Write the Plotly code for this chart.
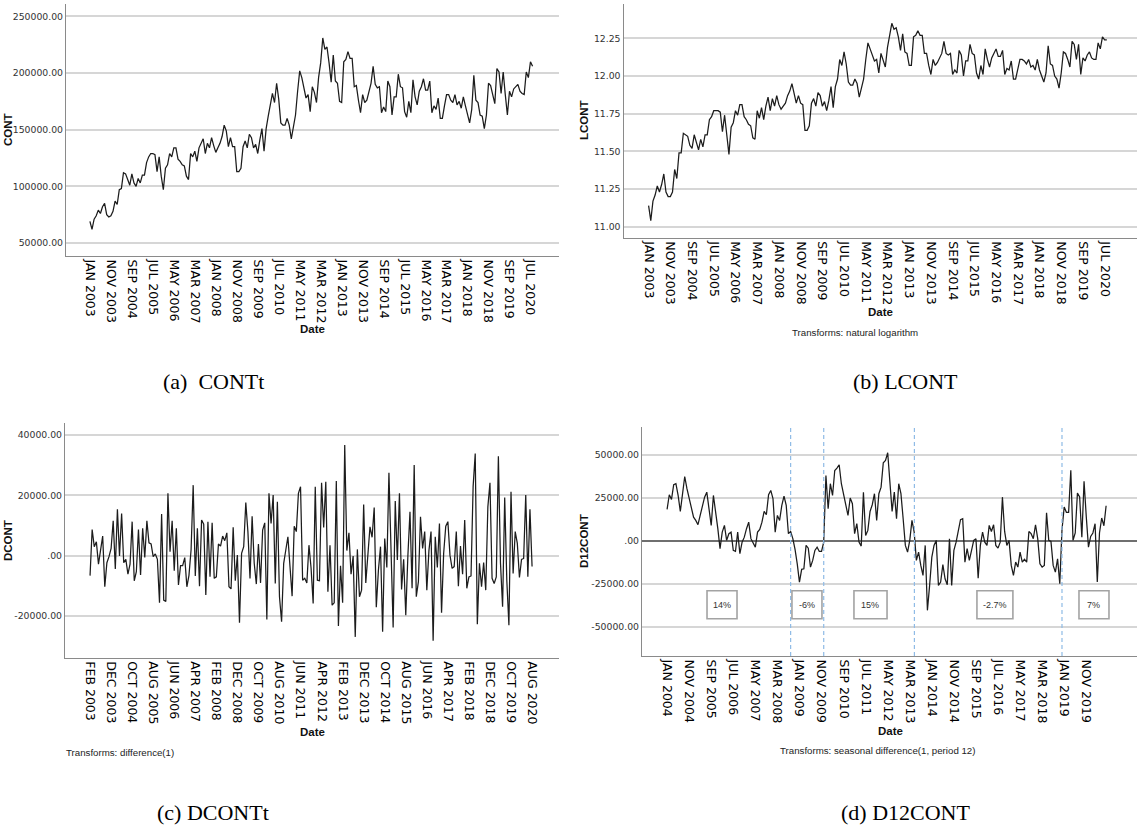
import numpy as np
import plotly.graph_objects as go

W, H = 1139, 839

# Monthly construction series, Jan 2003 - Aug 2020
CONT = [69000, 62000, 71000, 74000, 79000, 76000, 82000, 85000, 75000, 73000, 74000, 78000,
        87000, 84000, 97000, 98000, 112000, 111000, 106000, 101000, 111000, 103000, 100000, 107000,
        103000, 110000, 110000, 121000, 126000, 129000, 129000, 128000, 113000, 126000, 109000, 97000,
        116000, 119000, 129000, 126000, 134000, 134000, 124000, 122000, 119000, 118000, 109000, 106000,
        129000, 126000, 131000, 122000, 134000, 138000, 142000, 129000, 138000, 134000, 143000, 136000,
        130000, 134000, 138000, 144000, 154000, 149000, 135000, 143000, 135000, 135000, 113000, 113000,
        116000, 135000, 140000, 134000, 146000, 143000, 134000, 137000, 129000, 141000, 151000, 131000,
        151000, 162000, 171000, 182000, 174000, 191000, 177000, 156000, 154000, 154000, 160000, 154000,
        142000, 151000, 163000, 184000, 202000, 196000, 187000, 178000, 181000, 166000, 188000, 183000,
        174000, 196000, 209000, 231000, 221000, 223000, 209000, 192000, 216000, 193000, 191000, 175000,
        174000, 210000, 212000, 219000, 213000, 213000, 188000, 189000, 176000, 165000, 181000, 174000,
        176000, 185000, 191000, 206000, 190000, 187000, 188000, 165000, 170000, 166000, 193000, 188000,
        163000, 179000, 179000, 199000, 188000, 187000, 166000, 161000, 175000, 165000, 194000, 179000,
        172000, 184000, 188000, 195000, 185000, 185000, 193000, 165000, 171000, 168000, 178000, 160000,
        160000, 171000, 181000, 181000, 176000, 174000, 181000, 172000, 175000, 169000, 179000, 171000,
        163000, 156000, 168000, 198000, 176000, 174000, 163000, 162000, 151000, 163000, 191000, 189000,
        181000, 173000, 204000, 201000, 182000, 201000, 181000, 163000, 184000, 179000, 186000, 188000,
        190000, 184000, 182000, 181000, 201000, 196000, 210000, 206000]

LCONT = [11.14, 11.04, 11.17, 11.21, 11.27, 11.23, 11.28, 11.35, 11.23, 11.20, 11.20, 11.23,
         11.38, 11.32, 11.49, 11.49, 11.62, 11.61, 11.60, 11.54, 11.52, 11.61, 11.55, 11.51,
         11.58, 11.53, 11.61, 11.61, 11.71, 11.73, 11.77, 11.77, 11.77, 11.76, 11.63, 11.74,
         11.60, 11.48, 11.66, 11.69, 11.77, 11.74, 11.81, 11.81, 11.73, 11.71, 11.68, 11.67,
         11.59, 11.58, 11.77, 11.72, 11.79, 11.71, 11.80, 11.86, 11.77, 11.85, 11.80, 11.87,
         11.81, 11.78, 11.80, 11.82, 11.87, 11.90, 11.95, 11.88, 11.82, 11.87, 11.82, 11.81,
         11.64, 11.64, 11.67, 11.82, 11.85, 11.80, 11.89, 11.87, 11.80, 11.83, 11.77, 11.84,
         11.93, 11.79, 11.93, 11.98, 12.11, 12.07, 12.16, 12.08, 11.96, 11.94, 11.94, 11.98,
         11.95, 11.86, 11.92, 11.98, 12.11, 12.22, 12.18, 12.14, 12.10, 12.11, 12.02, 12.15,
         12.11, 12.06, 12.19, 12.26, 12.35, 12.31, 12.32, 12.26, 12.17, 12.28, 12.16, 12.15,
         12.07, 12.07, 12.26, 12.27, 12.30, 12.27, 12.27, 12.15, 12.15, 12.07, 12.01, 12.11,
         12.07, 12.09, 12.12, 12.15, 12.23, 12.15, 12.14, 12.15, 12.01, 12.04, 12.02, 12.17,
         12.14, 12.00, 12.10, 12.10, 12.21, 12.15, 12.14, 12.02, 11.98, 12.07, 12.01, 12.18,
         12.11, 12.06, 12.12, 12.15, 12.18, 12.13, 12.13, 12.17, 12.01, 12.05, 12.04, 12.10,
         11.98, 11.98, 12.04, 12.11, 12.11, 12.10, 12.08, 12.11, 12.06, 12.07, 12.04, 12.11,
         12.04, 12.00, 11.96, 12.02, 12.20, 12.08, 12.07, 12.00, 11.98, 11.92, 12.02, 12.16,
         12.15, 12.11, 12.06, 12.23, 12.21, 12.11, 12.21, 12.01, 12.12, 12.10, 12.14, 12.16,
         12.12, 12.11, 12.11, 12.22, 12.18, 12.26, 12.24, 12.24]

# First difference, Feb 2003 - Aug 2020
DCONT = [-6600, 8700, 3000, 4600, -2800, 2400, 6500, -10300, -2300, -300, 2400, 11600,
         -4400, 15400, -100, 14000, -2300, -1200, -6100, -2800, 11300, -8300, -5300, 8700,
         -6400, 9100, -600, 11600, 4300, 3900, -300, 600, -1200, -15600, 13800, -14700,
         -15200, 20700, 1300, 11600, -5000, 9100, -9700, -3300, -3300, -600, -10300, -6500,
         2000, 23400, -6700, 9100, -10100, 11800, 10500, -13000, 11300, -7000, 10900, -7500,
         -7000, 3900, 3200, 6500, 5000, 7600, -10300, -11000, 9400, -8300, 200, -22200,
         800, 3000, 17600, 8000, -7500, 13100, -2500, -9400, 3900, -9000, 8500, 10900,
         -21100, 20700, 10700, 20100, -9200, 17900, -13600, -21900, -2500, 1900, 6300, -3600,
         -13400, 9800, 8000, 20700, 22900, -8100, -7500, -9000, 3500, -4000, -15800, 22900,
         -8100, -8300, 24200, 9400, 24500, -11900, 3500, -16400, -15600, 24800, -23300, -3300,
         -15600, 36700, 1700, 7600, -6100, -100, -26900, 2100, -13600, -11400, 17000, -9000,
         200, 9600, 6100, 16000, -17100, -4800, 3000, -25200, 5700, -3900, 27500, -1400,
         -23800, 18100, -1400, 20700, -11200, -1200, -19700, -100, 14600, -10800, 30100, -13600,
         -8600, 12900, 2400, 8000, -11400, 1700, 8000, -28200, 6300, -3900, 10700, -18900,
         800, 9800, 11300, 200, -4200, -3600, 8000, -10100, 3200, -6100, 11800, -10800,
         -7000, -6700, 22900, 33900, -22700, -2500, -10300, -2300, -11400, 16200, 24200, -7500,
         -9200, -7000, 33000, -2500, -16900, 19300, -8100, -23000, 21200, -5900, 8000, 4100,
         -7200, -1200, -900, 20100, -7000, 15400, -3600]

# Seasonal difference (period 12), Jan 2004 - Aug 2020
D12CONT = [18400, 26900, 24200, 32700, 33300, 26500, 17200, 27500, 37500, 30400, 24200, 19100,
           13900, 12000, 9500, 14900, 20700, 25500, 28400, 18800, 9100, 26500, 17800, 7200,
           -4400, 5200, 9100, 400, 4300, 5200, -5400, -6000, 5200, -7300, -600, 2300,
           7200, 11000, 1400, -1000, -3500, 5200, 6800, 11000, 17200, 15300, 26900, 29400,
           24600, 5200, 14900, 12000, 20700, 26100, 20700, 4300, 5600, 1400, -4800, -13200,
           -23800, -16400, -16100, -2500, -4100, -15100, -11200, -5400, -3500, -6000, -6000, -600,
           38100, 18800, 33300, 26500, 41000, 42400, 44300, 33300, 27500, 21700, 14900, 25000,
           21700, 4300, 10100, -600, -2900, 28400, 3300, 6200, 17200, 21100, 27500, 12000,
           27500, 31300, 45500, 46800, 51300, 34200, 17200, 28400, 13000, 33300, 27500, 13000,
           -2500, -6400, 400, 12000, 5200, -11200, -6400, -14100, -19900, -2500, -40200, -25700,
           -9300, -2500, 400, -25700, -23800, -13700, -21900, -25300, 1400, -25700, -5400, -600,
           7200, 12400, 13000, -12200, -4400, -11200, -5400, 400, 1400, -21500, -2500, 5200,
           -600, -2500, 9100, 5600, 9500, -2500, -4100, -600, 25500, 5600, -2500, 400,
           -14100, -19900, -12200, -15100, -6400, -12200, -10600, -12200, 5600, 4300, 1400, 9500,
           1400, -13200, -15100, -14100, 16400, 400, -200, -14100, -18000, -10300, -24800, 6600,
           19800, 16700, 16700, 41100, 400, 4700, 27900, 25600, 2300, 34700, 14300, -3500,
           2700, 4700, 10100, -23800, 4700, 13400, 8900, 20500]

assert len(CONT) == 212 and len(LCONT) == 212
assert len(DCONT) == 211 and len(D12CONT) == 200

# Date tick labels (every 10 months)
TICKS_AB = ["JAN 2003", "NOV 2003", "SEP 2004", "JUL 2005", "MAY 2006", "MAR 2007", "JAN 2008",
            "NOV 2008", "SEP 2009", "JUL 2010", "MAY 2011", "MAR 2012", "JAN 2013", "NOV 2013",
            "SEP 2014", "JUL 2015", "MAY 2016", "MAR 2017", "JAN 2018", "NOV 2018", "SEP 2019",
            "JUL 2020"]
TICKS_C = ["FEB 2003", "DEC 2003", "OCT 2004", "AUG 2005", "JUN 2006", "APR 2007", "FEB 2008",
           "DEC 2008", "OCT 2009", "AUG 2010", "JUN 2011", "APR 2012", "FEB 2013", "DEC 2013",
           "OCT 2014", "AUG 2015", "JUN 2016", "APR 2017", "FEB 2018", "DEC 2018", "OCT 2019",
           "AUG 2020"]
TICKS_D = ["JAN 2004", "NOV 2004", "SEP 2005", "JUL 2006", "MAY 2007", "MAR 2008", "JAN 2009",
           "NOV 2009", "SEP 2010", "JUL 2011", "MAY 2012", "MAR 2013", "JAN 2014", "NOV 2014",
           "SEP 2015", "JUL 2016", "MAY 2017", "MAR 2018", "JAN 2019", "NOV 2019"]

CONT_YT = [50000, 100000, 150000, 200000, 250000]
CONT_YL = ["50000.00", "100000.00", "150000.00", "200000.00", "250000.00"]
LCONT_YT = [11.0, 11.25, 11.5, 11.75, 12.0, 12.25]
LCONT_YL = ["11.00", "11.25", "11.50", "11.75", "12.00", "12.25"]
DCONT_YT = [-20000, 0, 20000, 40000]
DCONT_YL = ["-20000.00", ".00", "20000.00", "40000.00"]
D12_YT = [-50000, -25000, 0, 25000, 50000]
D12_YL = ["-50000.00", "-25000.00", ".00", "25000.00", "50000.00"]

# Structural breaks (months since Jan 2003) and growth rate of each regime
BREAKS = [68.0, 83.0, 124.1, 191.0]
GROWTH = ["14%", "-6%", "15%", "-2.7%", "7%"]
GROWTH_AT = [36.9, 75.4, 104.2, 160.6, 205.5]
GROWTH_W = [13.6, 13.6, 15.0, 16.3, 13.6]

t_cont = np.arange(len(CONT))
t_d1 = np.arange(1, 1 + len(DCONT))
t_d12 = np.arange(12, 12 + len(D12CONT))


def fx(px):
    return px / W


def fy(py):
    return 1 - py / H


LINE = dict(color="#1c1c1c", width=1.25)
XT_FONT = dict(family="DejaVu Sans", size=12.5, color="#000000")
YT_FONT = dict(family="DejaVu Sans", size=9.3, color="#333333")
TITLE_FONT = dict(family="Liberation Sans", size=11.5, color="#111111")
NOTE_FONT = dict(family="Liberation Sans", size=9.7, color="#222222")
CAP_FONT = dict(family="Liberation Serif", size=22, color="#000000")

panels = [
    # axis suffix, x px span, y px span, x range, y range, tickvals, ticktext, ytickvals, yticktext
    ("", (66, 559), (4, 256), (-11.4, 223.6), (38500, 261000),
     list(range(0, 211, 10)), TICKS_AB, CONT_YT, CONT_YL),
    ("2", (623.5, 1137), (4, 237.7), (-11.56, 224.9), (10.927, 12.478),
     list(range(0, 211, 10)), TICKS_AB, LCONT_YT, LCONT_YL),
    ("3", (65, 559), (423.3, 657.7), (-10.9, 223.8), (-33800, 43900),
     list(range(1, 212, 10)), TICKS_C, DCONT_YT, DCONT_YL),
    ("4", (642, 1137), (426.7, 656), (0.63, 225.0), (-66700, 66400),
     list(range(12, 203, 10)), TICKS_D, D12_YT, D12_YL),
]

fig = go.Figure()
series = [(t_cont, CONT), (t_cont, LCONT), (t_d1, DCONT), (t_d12, D12CONT)]
for (sfx, *_), (tx, ty) in zip(panels, series):
    fig.add_trace(go.Scatter(x=tx, y=ty, mode="lines", line=LINE, hoverinfo="skip",
                             showlegend=False, xaxis="x" + sfx, yaxis="y" + sfx))

layout = dict(width=W, height=H, margin=dict(l=0, r=0, t=0, b=0),
              paper_bgcolor="white", plot_bgcolor="white", showlegend=False)
for sfx, xs, ys, xr, yr, tv, tt, ytv, ytt in panels:
    layout["xaxis" + sfx] = dict(
        domain=[fx(xs[0]), fx(xs[1])], range=list(xr), anchor="y" + sfx,
        tickvals=tv, ticktext=tt, tickangle=90, tickfont=XT_FONT,
        showgrid=False, zeroline=False, showline=True, linecolor="#8a8a8a", linewidth=1.2,
        ticks="", fixedrange=True)
    layout["yaxis" + sfx] = dict(
        domain=[fy(ys[1]), fy(ys[0])], range=list(yr), anchor="x" + sfx,
        tickvals=ytv, ticktext=ytt, tickfont=YT_FONT,
        showgrid=True, gridcolor="#d6d6d6", gridwidth=1.5, zeroline=False,
        showline=True, linecolor="#8a8a8a", linewidth=1.2, ticks="", fixedrange=True)

layout["yaxis4"].update(zeroline=True, zerolinecolor="#6f6f6f", zerolinewidth=1.6)

shapes = []
for b in BREAKS:
    shapes.append(dict(type="line", xref="x4", yref="y4 domain", x0=b, x1=b, y0=0, y1=1,
                       line=dict(color="#8fbbe6", width=1.2, dash="4px,3px")))
annotations = []
for lab, c, w in zip(GROWTH, GROWTH_AT, GROWTH_W):
    shapes.append(dict(type="rect", xref="x4", yref="y4", x0=c - w / 2, x1=c + w / 2,
                       y0=-45100, y1=-28800, fillcolor="white",
                       line=dict(color="#a3a3a3", width=1.6)))
    annotations.append(dict(x=c, y=-36950, xref="x4", yref="y4", text=lab, showarrow=False,
                            font=dict(family="Liberation Sans Narrow, Liberation Sans",
                                      size=9, color="#333333")))


def note(text, x, y, font, angle=0, bold=False):
    annotations.append(dict(x=fx(x), y=fy(y), xref="paper", yref="paper",
                            text=f"<b>{text}</b>" if bold else text, showarrow=False,
                            textangle=angle, font=font, xanchor="center", yanchor="middle"))


# axis titles
note("CONT", 8, 130, TITLE_FONT, angle=-90, bold=True)
note("LCONT", 584, 120, TITLE_FONT, angle=-90, bold=True)
note("DCONT", 8, 541, TITLE_FONT, angle=-90, bold=True)
note("D12CONT", 584, 541, TITLE_FONT, angle=-90, bold=True)
note("Date", 312, 329, TITLE_FONT, bold=True)
note("Date", 880, 312, TITLE_FONT, bold=True)
note("Date", 312, 732, TITLE_FONT, bold=True)
note("Date", 890, 731, TITLE_FONT, bold=True)
# transform footnotes
note("Transforms: natural logarithm", 855, 332, NOTE_FONT)
note("Transforms: difference(1)", 120, 752, NOTE_FONT)
note("Transforms: seasonal difference(1, period 12)", 877, 750, NOTE_FONT)
# panel captions
note("(a)\u00a0\u00a0CONTt", 213, 381, CAP_FONT)
note("(b) LCONT", 905, 381, CAP_FONT)
note("(c) DCONTt", 213, 812, CAP_FONT)
note("(d) D12CONT", 905, 812, CAP_FONT)

layout["shapes"] = shapes
layout["annotations"] = annotations
fig.update_layout(**layout)
fig.write_html("out.html")
